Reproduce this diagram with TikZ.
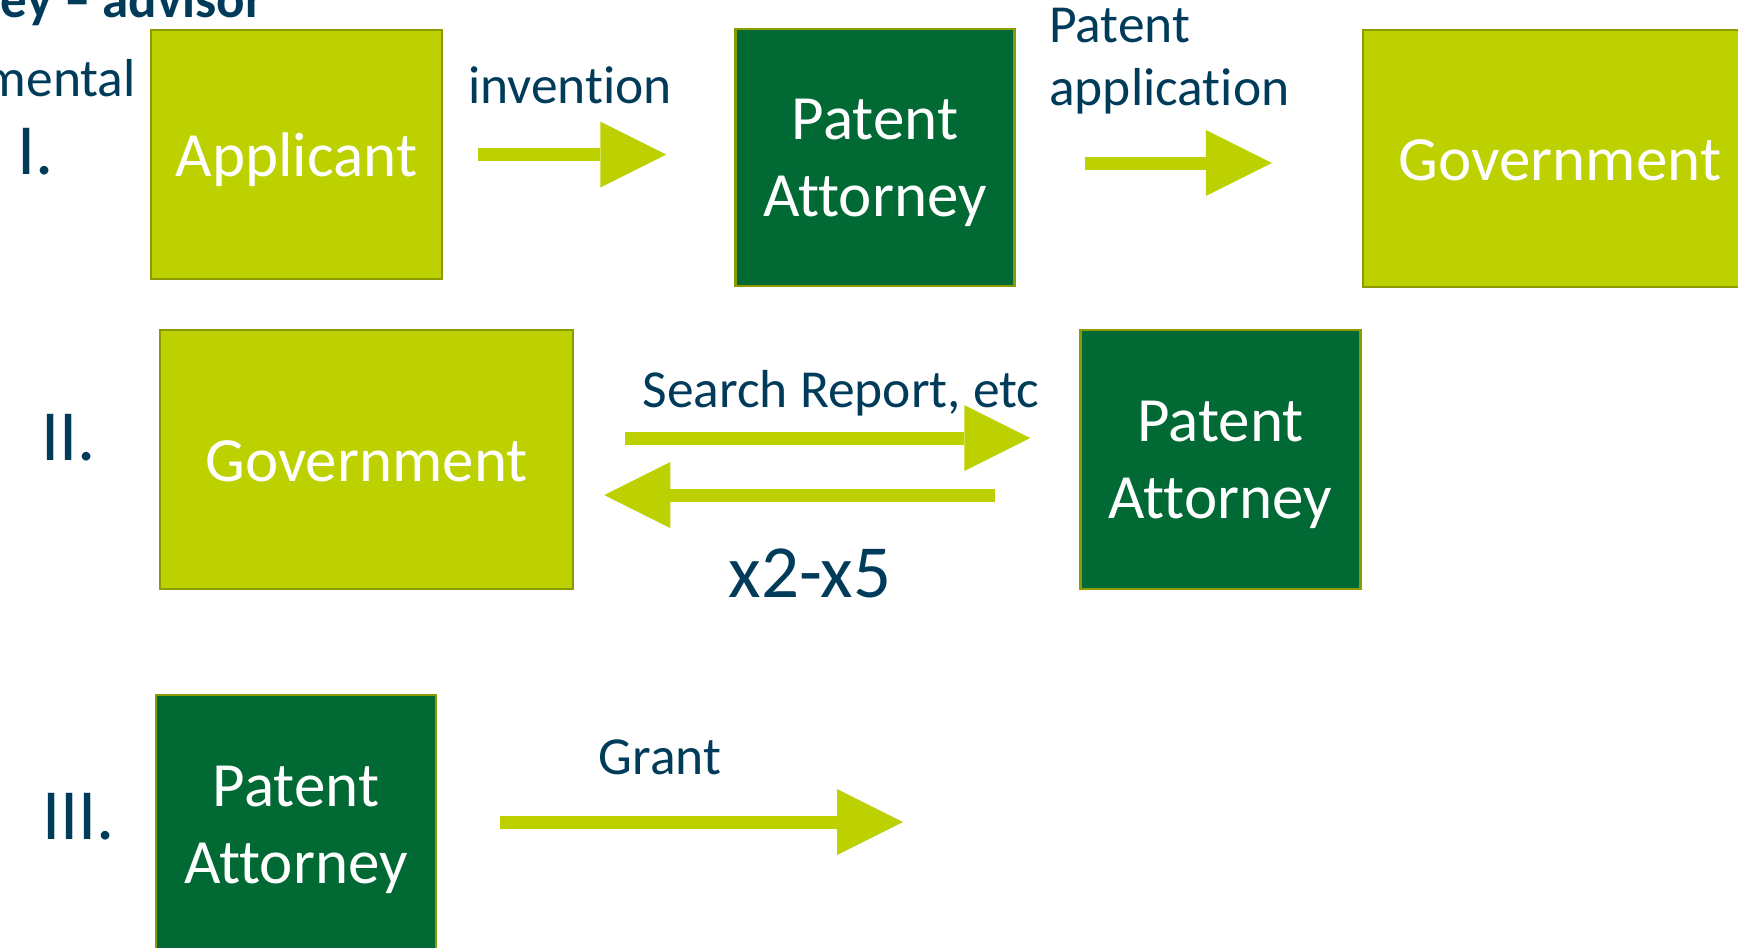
\documentclass[tikz,border=0pt]{standalone}
\usepackage{fontspec}
\setmainfont{Carlito}[Ligatures=NoCommon]
\usepackage{tikz}
\usetikzlibrary{arrows.meta,positioning}

\definecolor{leaf}{RGB}{189,208,0}
\definecolor{forest}{RGB}{0,105,52}
\definecolor{rim}{RGB}{140,156,0}
\definecolor{ink}{RGB}{0,59,90}

\begin{document}
\begin{tikzpicture}[x=1pt,y=-1pt,
    box/.style={draw=rim,line width=2.5pt,text=white,align=center,inner sep=0pt,
        font=\fontsize{63}{77}\selectfont},
    oneline/.style={text height=44pt,text depth=0pt},
    twoline/.style={text height=118pt,text depth=0pt},
    lightbox/.style={box,oneline,fill=leaf},
    darkbox/.style={box,twoline,fill=forest},
    lbl/.style={text=ink,inner sep=0pt,font=\fontsize{53.5}{63}\selectfont},
    num/.style={text=ink,inner sep=0pt,anchor=base west,font=\fontsize{72}{80}\selectfont},
    flow/.style={draw=leaf,line width=13pt,-{Triangle[length=66pt,width=66pt,line width=0pt]}}]
    \useasboundingbox (0,0) rectangle (1738,948);
    \clip (0,0) rectangle (1738,948);

    % heading cut off by the page
    \node[lbl,anchor=base east,font=\fontsize{53}{63}\selectfont\bfseries] (H) at (264,17) {ney -- advisor};
    \node[lbl,anchor=base east] (M) at (136,96) {mental};

    % step I
    \node[num] (n1) at (17,174) {I.};
    \node[lightbox,minimum width=291pt,minimum height=249pt] (A) at (296.5,154.5) {Applicant};
    \node[darkbox,minimum width=279pt,minimum height=257pt] (B) [right=291pt of A,yshift=-3pt] {Patent\\Attorney};
    \node[lightbox,minimum width=394pt,minimum height=257pt] (C) [right=346pt of B,yshift=-1pt] {Government};
    \node[lbl,anchor=base] (l1) at (570,103) {invention};
    \node[lbl,anchor=base west,align=left] (l2) at (1049,105) {Patent\\application};

    \draw[flow,shorten <=35pt,shorten >=68pt] (A.east) -- (A.east -| B.west);
    \draw[flow,shorten <=69pt,shorten >=90pt] ([yshift=-5.5pt]B.east) -- ([yshift=-4.5pt]C.west);

    % step II
    \node[num] (n2) at (41,460) {II.};
    \node[lightbox,minimum width=413pt,minimum height=259pt] (D) at (366.5,459.5) {Government};
    \node[darkbox,minimum width=280pt,minimum height=259pt] (E) [right=505pt of D] {Patent\\Attorney};
    \node[lbl,anchor=base] (l3) at (841,407) {Search Report, etc};
    \node[lbl,anchor=base,font=\fontsize{75}{80}\selectfont] (l4) at (810,597) {x2-x5};

    \draw[flow,shorten <=51pt,shorten >=49pt] ([yshift=21.5pt]D.east) -- ([yshift=21.5pt]E.west);
    \draw[flow,shorten <=84pt,shorten >=30pt] ([yshift=-35.5pt]E.west) -- ([yshift=-35.5pt]D.east);

    % step III
    \node[num] (n3) at (42,839) {III.};
    \node[darkbox,minimum width=280pt,minimum height=259pt] (F) at (296,824.5) {Patent\\Attorney};
    \node[lbl,anchor=base] (l5) at (660,774) {Grant};
    \coordinate (G) at (903,822);

    \draw[flow,shorten <=63pt] (F.east |- G) -- (G);
\end{tikzpicture}
\end{document}
